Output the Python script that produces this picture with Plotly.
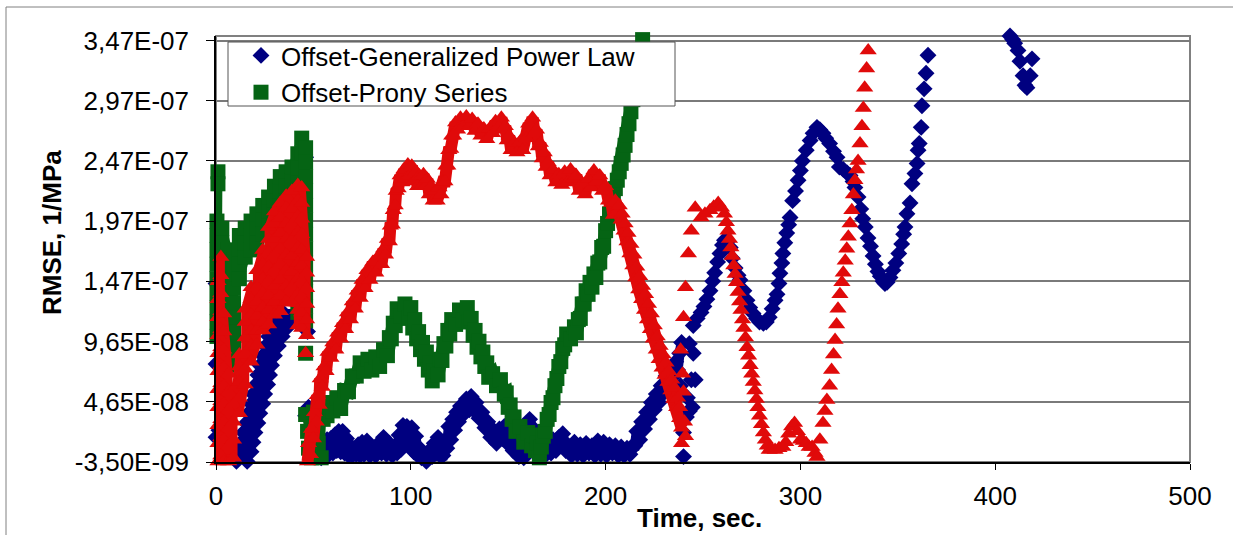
import plotly.graph_objects as go

# ---------------- data (time in s, RMSE in units of 1e-8 1/MPa) ----------------
UNIT = 1e-8

blue_cluster = [
    (10.5, -0.3), (16, -0.3), (12, 0.5), (18, 0.5), (13, 1.3), (19, 1.3), (14, 2.1), (20, 2.1),
    (15.5, 2.9), (21.5, 2.9), (16.5, 3.7), (22.5, 3.7), (18, 4.5), (24, 4.5), (19, 5.3), (25, 5.3),
    (20.5, 6.1), (26.5, 6.1), (21.5, 6.9), (27.5, 6.9), (22.5, 7.7), (28.5, 7.7), (24, 8.5), (30, 8.5),
    (25.5, 9.3), (32, 9.3), (27, 10.1), (34, 10.1), (29, 10.9), (37, 10.9), (32, 11.5), (39.5, 11.5),
    (35, 12.0), (40.5, 12.0),
]
blue_specks = [
    (0, 1.7), (1.5, 2.3), (2.5, 1.2), (0, 7.8), (0, 14.5), (46, 3.5),
    (47.5, 4.2), (44, 14.8), (46, 25.0), (45, 20.0), (43, 17.0), (47, 10.5),
    (240, 0.1), (240, 2.1), (241.5, 3.4), (242, 5.0), (243, 3.9), (244, 6.5), (245, 8.7), (246, 6.5),
    (244.5, 4.2), (243, 9.5), (238.5, 6.0),
]
blue_floor = [
    (54, 0.0), (55, 1.2), (56, 0.2), (57, 1.5), (58, 0.3), (59, 1.6), (60, 0.4), (61, 1.9), (62, 0.6),
    (63, 2.2), (64, 0.5), (65, 2.2), (66, 0.4), (67, 1.6), (68, 0.2), (69, 1.0), (70, 0.2), (71, 0.7),
    (72, 0.3), (73, 1.1), (74, 0.2), (75, 1.3), (76, 0.3), (77.5, 1.4), (79, 0.2), (80.5, 0.8), (82, 0.2),
    (83.5, 1.2), (85, 0.4), (86, 1.7), (87.5, 0.3), (89, 1.2), (90.5, 0.2), (92, 1.0), (93, 0.4), (94, 1.9),
    (95, 0.7), (96, 2.7), (97, 1.2), (98, 2.6), (99.5, 1.0), (100.5, 2.5), (101.5, 0.5), (102.5, 1.8),
    (103.5, 0.2), (104.5, 0.8), (105.5, 0.0), (107, 0.3), (108, -0.3), (109.5, 0.6), (111, 0.1), (112, 1.2),
    (113, 0.4), (114, 1.7), (115, 0.2), (116.5, 0.2), (117.5, 1.4), (118.5, 0.8), (119.5, 2.6), (120.5, 1.5),
    (121.5, 3.2), (122.5, 2.3), (123.5, 3.8), (124.5, 3.0), (125.5, 4.3), (127, 3.6), (128.5, 4.9), (130, 4.0),
    (131, 5.1), (132, 4.0), (133.5, 4.6), (135, 3.3), (136.5, 3.8), (138, 2.5), (139.5, 3.0), (141, 1.7),
    (142.5, 2.3), (144, 1.2), (145.5, 2.4), (147, 1.6), (148, 2.6), (149.5, 1.2), (151, 1.8), (152.5, 0.6),
    (154, 1.2), (155.5, 0.1), (157, 0.4), (158, 0.0), (159, 1.4), (160, 2.2), (161, 3.2), (162, 2.6),
    (163, 2.2), (164.5, 0.8), (166, 0.1), (167.5, 0.5), (169, 0.2), (170.5, 1.0), (172, 0.4), (173, 1.5),
    (174.5, 0.6), (176, 1.7), (177, 1.0), (178, 2.0), (179.5, 0.6), (181, 1.0), (182.5, 0.2), (184, 1.3),
    (185.5, 0.3), (187, 1.1), (188.5, 0.2), (190, 1.2), (191.5, 0.4), (193, 1.0), (194.5, 0.2), (196, 1.4),
    (197.5, 0.3), (199, 1.3), (200.5, 0.2), (202, 1.1), (203.5, 0.4), (205, 1.0), (206.5, 0.2), (208, 0.9),
    (209.5, 0.2), (211, 0.8), (212.5, 0.3), (214, 1.0),
    (215, 1.0), (216, 2.2), (217.5, 1.5), (218.5, 3.0), (220, 2.4), (221, 3.8), (222.5, 3.2), (223.5, 4.6),
    (225, 4.0), (226, 5.3), (227.5, 4.6), (228.5, 6.0), (230, 5.4), (231, 6.8), (232.5, 6.0), (233.5, 7.4),
    (235, 6.8), (236, 8.0), (237, 7.3), (238, 8.7), (239, 9.6),
]
blue_late = [
    (245, 11.0), (247, 11.6), (249, 12.1), (250.5, 12.6), (252, 13.2), (253.6, 13.9), (255, 14.7), (256, 15.4),
    (257.5, 16.3), (258.7, 17.0), (260, 17.7), (261, 18.1), (262.5, 18.0), (264, 17.5), (265, 16.6), (266.5, 15.8),
    (268, 15.2), (269, 14.8), (271, 13.9), (272.6, 13.1), (274, 12.5), (275.7, 12.0), (277.5, 11.6), (279, 11.3),
    (281, 11.2), (282.5, 11.3), (284, 11.7), (285.5, 12.4), (287, 13.1), (288, 13.6), (289, 14.5), (289.5, 15.35),
    (290.5, 16.2), (291, 17.0), (292, 17.9), (293, 18.7), (294, 19.4), (294.7, 20.0), (296, 21.4), (297.5, 22.2),
    (298.8, 23.1), (300, 23.9), (301, 24.7), (303, 25.6), (305, 26.4), (306.5, 27.0), (308.5, 27.5), (310, 27.3),
    (311.6, 27.0), (313, 26.6), (315, 26.15), (317, 25.5), (318.8, 25.0), (320, 24.2), (322, 24.0), (324, 23.7),
    (325.5, 23.5), (327, 23.0), (328, 22.5), (329.6, 21.7), (331, 20.7), (332, 19.9), (333.3, 19.2), (334.7, 18.3),
    (336, 17.6), (337.3, 16.8), (338.5, 16.1), (339.8, 15.5), (341, 15.1), (342.4, 14.7), (343.4, 14.5), (344.5, 14.6),
    (346, 15.0), (347.5, 15.6), (349, 16.2), (350.5, 17.0), (352, 17.8), (353, 18.6), (353.7, 19.2), (354.7, 20.3),
    (356.3, 21.2), (357.3, 22.8), (358.8, 23.65), (359.9, 24.5), (360.4, 25.6), (361, 26.15), (362, 27.5),
    (362.4, 29.3), (363.5, 30.7), (364.5, 32.0), (365.5, 33.5),
    (407.6, 35.1), (409, 34.8), (410, 34.5), (411.7, 33.9), (412.7, 33.0), (414.3, 31.8), (415.3, 31.0),
    (416.3, 30.8), (418, 31.8), (418.9, 33.2),
]

green_cluster = [
    (1, 23.8), (1, 22.8),
    (0.5, 19.7), (0.5, 18.5), (0.5, 17.3), (0.5, 16.1), (0.5, 14.9), (0.5, 13.7), (0.5, 12.5), (0.5, 11.3), (0.5, 10.1),
    (3, 9.5), (3, 10.7), (3, 11.9), (3, 13.1), (3, 14.3), (3, 15.5), (3, 16.7), (3, 17.9), (3, 19.1),
    (6, 17.3), (6, 16.1), (6, 14.9), (6, 13.7), (6, 12.5), (6, 11.3), (6, 10.1), (6, 8.9), (6, 7.7),
    (9, 9.3), (9, 10.5), (9, 11.7), (9, 12.9), (9, 14.1), (9, 15.3), (9, 16.5),
    (12, 18.5), (12, 17.3), (12, 16.1), (12, 14.9), (15, 16.7), (15, 17.9), (15, 19.1),
    (18, 19.7), (18, 18.5), (18, 17.3), (21, 17.9), (21, 19.1), (21, 20.3), (24, 21.0), (24, 19.8), (24, 18.6),
    (27, 19.3), (27, 20.5), (27, 21.7), (30, 22.6), (30, 21.4), (30, 20.2), (33, 21.0), (33, 22.2), (33, 23.4),
    (36, 23.8), (36, 22.6), (36, 21.4), (39, 21.8), (39, 23.0), (39, 24.2),
    (42, 25.3), (42, 24.1), (42, 22.9), (42, 21.7), (42, 20.5), (42, 19.3), (42, 18.1), (42, 16.9), (42, 15.7),
    (42, 14.5), (42, 13.3), (42, 12.1), (44, 12.3), (44, 25.4), (44, 26.6),
    (46, 25.8), (46, 24.6), (46, 23.4), (46, 22.2), (46, 21.0), (46, 19.8), (46, 18.6), (46, 17.4), (46, 16.2),
    (46, 15.0), (46, 13.8), (46, 12.6), (46, 11.4),
]
green_specks = [(46, 8.7)]
green_foot = [
    (46, 3.6), (47, 2.2), (47.5, 0.8), (49, 0.0), (50, 3.8), (51.5, 2.6), (52.5, 1.2), (54, 0.0), (55, 3.2), (56, 4.2),
]
green_main = [
    (57, 3.5), (58, 4.6), (60, 3.9), (62, 5.0), (64, 4.1), (66, 5.6), (68, 5.5), (70, 6.8), (72, 6.8), (74, 7.9),
    (76, 7.2), (78, 8.2), (80, 7.3), (82, 8.4), (84, 7.6), (86, 9.0), (88, 8.5), (89, 10.0), (90, 9.9), (91, 11.2),
    (92, 11.0), (93, 12.4), (95, 11.8), (97, 12.8), (99, 11.6), (100, 12.5), (101, 10.8), (102, 11.5), (103, 9.9),
    (104, 10.5), (105, 9.0), (106, 9.6), (107, 8.2), (108, 8.8), (109, 7.3), (110, 7.9), (111, 6.4), (112, 7.2),
    (114, 6.9), (115, 8.2), (116, 8.1), (117, 9.5), (118, 9.3), (119, 10.6), (120, 10.3), (121, 11.5), (123, 11.1),
    (125, 12.3), (127, 11.5), (129, 12.5), (130, 11.3), (131, 11.6), (132, 10.2), (133, 10.6), (134, 9.2),
    (135, 9.7), (136, 8.4), (137, 8.8), (138, 7.6), (139, 7.9), (140, 6.7), (142, 7.0), (144, 6.0), (146, 6.5),
    (148, 5.3), (149, 5.4), (150, 4.2), (151, 4.4), (152, 3.2), (153, 3.4), (154, 2.2), (156, 2.6), (158, 1.3),
    (160, 2.1), (162, 1.0), (163, 1.9), (164, 0.6), (165, 1.2), (166, 0.0), (167, 0.9), (168, 1.8), (169, 2.2),
    (170, 3.2), (171, 3.6), (172, 4.6), (173, 5.0), (174, 6.0), (175, 6.6), (176, 7.6), (177, 8.0), (178, 9.1),
    (179, 9.4), (180, 10.3), (182, 9.9), (184, 10.9), (185, 10.4), (186, 11.5), (187, 11.6), (188, 12.8),
    (189, 12.8), (190, 13.9), (191, 13.6), (192, 14.6), (193, 14.2), (194, 15.3), (195, 15.0), (196, 16.2),
    (197, 16.3), (198, 17.5), (199, 17.6), (200, 18.9), (201, 19.5), (202, 20.3), (203, 21.0), (204, 21.7),
    (205, 22.4), (206, 23.1), (207, 23.8), (208, 24.5), (209, 25.2), (210, 26.0), (211, 26.9), (212, 27.8),
    (213, 28.8), (214, 29.8), (215, 30.8), (216, 31.8), (217, 32.8), (218, 33.9), (219, 34.8),
]

red_cluster = [
    (1, -0.3), (1, 1.2), (1, 2.7), (1, 4.2), (1, 5.7), (1, 7.2), (1, 8.7), (1, 10.2), (1, 11.7), (1, 13.2), (1, 14.7),
    (2.5, 16.7), (2.5, 15.2), (2.5, 13.7), (2.5, 12.2), (2.5, 10.7), (2.5, 9.2), (2.5, 7.7), (2.5, 6.2), (2.5, 4.7),
    (2.5, 3.2), (2.5, 1.7), (2.5, 0.2),
    (4, -0.3), (4, 1.5), (4, 3.0), (4, 4.5), (4, 6.0), (4, 7.5), (4, 9.0), (4, 10.5), (4, 12.0),
    (6.5, 7.0), (6.5, 5.5), (6.5, 4.0), (6.5, 2.5), (6.5, 1.0), (6.5, -0.3), (9, 0.0), (9, 1.5), (9, 3.0),
    (9, 4.5), (10.5, 6.0),
    (12, 8.6), (12, 7.6), (12, 6.3), (12, 5.0), (12, 3.7),
    (15, 6.1), (15, 7.4), (15, 8.7), (15, 10.0), (15, 11.3), (15, 12.4),
    (18, 14.2), (18, 13.2), (18, 11.9), (18, 10.6), (18, 9.3), (18, 8.0),
    (21, 9.4), (21, 10.6), (21, 11.8), (21, 13.0), (21, 14.2), (21, 15.6),
    (24, 17.3), (24, 16.1), (24, 14.9), (24, 13.7), (24, 12.5), (24, 11.3), (24, 10.6),
    (27, 11.1), (27, 12.3), (27, 13.5), (27, 14.7), (27, 15.9), (27, 17.1), (27, 18.2), (27, 19.2),
    (30, 20.5), (30, 19.5), (30, 18.2), (30, 16.9), (30, 15.6), (30, 14.3), (30, 13.0), (30, 11.9),
    (33, 12.2), (33, 13.5), (33, 14.8), (33, 16.1), (33, 17.4), (33, 18.7), (33, 20.0), (33, 21.2),
    (36, 21.8), (36, 20.8), (36, 19.5), (36, 18.2), (36, 16.9), (36, 15.6), (36, 14.3), (36, 13.0),
    (39, 12.9), (39, 14.2), (39, 15.5), (39, 16.8), (39, 18.1), (39, 19.4), (39, 20.7), (39, 22.2),
    (42, 22.7), (42, 21.4), (42, 20.1), (42, 18.8), (42, 17.5), (42, 16.2), (42, 14.9), (42, 13.6), (42, 12.3), (42, 11.0),
    (44, 10.8), (44, 12.1), (44, 13.4), (44, 14.7), (44, 16.0), (44, 17.3), (44, 18.6), (44, 19.9), (44, 21.2), (44, 22.5),
    (46.5, 16.7), (46.5, 15.4), (46.5, 14.1), (46.5, 12.8), (46.5, 11.5), (46.5, 10.2),
]
red_specks = [(46, 8.7), (238.5, 9.0), (239.5, 7.0), (240, 5.5), (240.5, 3.0), (241, 1.8), (239, 1.2)]
red_main = [
    (47, -0.3), (47.5, 1.2), (48.5, 0.3), (49, 2.4), (50, 1.6), (50.5, 3.8), (51.5, 3.0), (52, 5.2), (53, 4.4),
    (53.5, 6.6), (54.5, 5.9), (55.5, 7.6), (56.5, 7.2), (57.5, 8.8), (59, 8.3), (60, 9.6), (61.5, 9.0), (62.5, 10.4),
    (64, 9.9), (65, 11.2), (66.5, 10.7), (67.5, 12.1), (69, 11.5), (70, 13.0), (71.5, 12.4), (72.5, 13.9), (74, 13.3),
    (75, 14.8), (76.5, 14.1), (77.5, 15.6), (79, 14.8), (80.5, 16.3), (82, 15.4), (83.5, 16.8), (85, 16.1), (86, 17.4),
    (87, 16.9), (88, 18.2), (89, 18.0), (89.5, 19.3), (90.5, 19.4), (91, 20.6), (92, 21.0), (92.5, 22.2), (93.5, 22.4),
    (94.5, 23.5), (95.5, 22.9), (96.5, 24.0), (97.5, 23.2), (98.5, 24.4), (99.5, 23.5), (100.5, 24.3), (101.5, 23.0),
    (102.5, 23.8), (103.5, 22.6), (104.5, 23.5), (105.5, 22.6), (106.5, 23.6), (107.5, 22.6), (108.5, 23.2),
    (109.5, 21.9), (110.5, 22.6), (111.5, 21.4), (112.5, 22.2), (113.5, 21.4), (114.5, 22.5), (115.5, 21.9),
    (116.5, 23.0), (117.5, 23.0), (118, 24.3), (119, 24.3), (119.5, 25.6), (120.5, 25.7), (121, 26.8), (122, 26.8),
    (123, 27.9), (124, 27.3), (125.5, 28.3), (127, 27.6), (128.5, 28.4), (130, 27.6), (131.5, 28.2), (133, 27.2),
    (134.5, 27.8), (136, 26.8), (137.5, 27.4), (139, 26.5), (140.5, 27.4), (142, 27.0), (143.5, 28.0), (145, 27.5),
    (146.5, 28.3), (147.5, 27.3), (148.5, 27.6), (149.5, 26.4), (150.5, 26.8), (151.5, 25.6), (153, 26.2),
    (154.5, 25.4), (156, 26.3), (157.5, 25.6), (158.5, 26.8), (159.5, 26.6), (160.5, 27.8), (161.5, 27.6),
    (162.5, 28.3), (163.5, 27.0), (164.5, 27.3), (165.5, 25.9), (166.5, 26.2), (167.5, 24.9), (168.5, 25.4),
    (169.5, 24.2), (170.5, 24.6), (171.5, 23.5), (173, 24.0), (174.5, 22.9), (176, 23.6), (177.5, 22.7), (179, 23.8),
    (180.5, 22.9), (182, 24.0), (183.5, 23.2), (185, 23.5), (186.5, 22.2), (188, 22.8), (189.5, 21.9), (191, 23.2),
    (192.5, 22.5), (194, 23.9), (195.5, 23.0), (197, 23.5), (198.5, 22.2), (200, 22.6), (201.5, 21.4), (203, 21.2),
    (204, 20.2),
    (205, 21.4), (206.5, 20.6), (208, 19.8), (209.5, 18.9), (211, 18.0), (212.5, 17.0), (214, 16.0), (215.5, 15.0),
    (217, 14.0), (218.5, 13.2), (220, 12.3), (221.5, 11.5), (223, 10.7), (224.5, 9.9), (226, 9.0), (227.5, 8.2),
    (229, 7.5), (230.5, 6.9), (232, 6.3), (233.5, 5.6), (235, 4.9), (236.5, 4.2), (238, 3.3), (239, 2.5),
]
red_tail = [
    (207, 21.0), (208.5, 20.3), (210, 19.5), (211.5, 18.7), (213, 17.8), (214.5, 16.9), (216, 15.9), (217.5, 15.1),
    (219, 14.3), (220.5, 13.6), (222, 12.8), (223.5, 12.0), (225, 11.0), (226.5, 10.1), (228, 9.3), (229.5, 8.6),
    (231, 7.9), (232.5, 7.2), (234, 6.5), (235.5, 5.8), (237, 5.0), (238, 4.2),
]
red_late = [
    (240, 11.7), (241, 14.2), (242.5, 17.0), (244, 18.9), (246, 20.8), (249, 20.0), (251, 20.3), (253.6, 20.6),
    (255.5, 20.9), (257.8, 21.2), (259.5, 20.8), (261, 20.3), (262, 19.6), (262.8, 18.9), (263.6, 18.2),
    (264.3, 17.5), (265, 16.8), (265.8, 16.0), (266.5, 15.3), (267.2, 14.6), (268, 13.8), (268.8, 13.0),
    (269.5, 12.3), (270.3, 11.5), (271, 10.8), (271.8, 10.0), (272.6, 9.2), (273.4, 8.5), (274.2, 7.7), (275, 7.0),
    (275.8, 6.3), (276.6, 5.6), (277.4, 4.9), (278.2, 4.2), (279, 3.5), (280, 2.8), (281, 2.1), (282, 1.5),
    (283, 1.0), (284, 0.65), (285.5, 0.7), (287, 0.65),
    (289, 0.8), (291, 0.9), (292.5, 1.3), (294, 2.0), (295.5, 2.6), (297, 2.9), (298.5, 2.2), (300, 1.5),
    (301.5, 1.4), (303, 1.2), (304.5, 0.9), (306, 0.9), (307.5, 0.4), (308.5, 0.07), (310, 1.5), (311.6, 2.9),
    (312.6, 3.9), (313.6, 4.8), (315, 6.0), (316, 7.3), (317, 8.6), (317.8, 9.8), (318.6, 11.1), (319.3, 12.4),
    (320.3, 13.6), (321.3, 14.6), (322, 15.4), (323, 16.4), (323.8, 17.4), (324.6, 18.4), (325.5, 19.5),
    (326.4, 20.6), (327.2, 21.9), (328, 23.1), (328.8, 24.0), (329.6, 24.7), (330.6, 26.15), (331.6, 27.6),
    (332.3, 29.1), (333, 30.8), (334, 32.4), (334.8, 33.9),
]

x_ticks = [0, 100, 200, 300, 400, 500]
y_tickvals = [-3.5e-9, 4.65e-8, 9.65e-8, 1.47e-7, 1.97e-7, 2.47e-7, 2.97e-7, 3.47e-7]
y_ticktext = ["-3,50E-09", "4,65E-08", "9,65E-08", "1,47E-07", "1,97E-07", "2,47E-07", "2,97E-07", "3,47E-07"]

series_names = ["Offset-Generalized Power Law", "Offset-Prony Series", "Offset-Prony (red)"]

# ---------------- figure ----------------
FONT = "Arial, Liberation Sans, sans-serif"
BLUE = "#000080"
GREEN = "#056414"
RED = "#E00A0A"
SYMBOL = {"blue": ("diamond", 13, BLUE), "green": ("square", 15, GREEN), "red": ("triangle-up", 15, RED)}


def xs(pts):
    return [p[0] for p in pts]


def ys(pts):
    return [p[1] * UNIT for p in pts]


fig = go.Figure()


def add(pts, series, name, legend=False, band=0, rank=1000):
    sym, size, color = SYMBOL[series]
    fig.add_trace(go.Scatter(
        x=xs(pts), y=ys(pts), name=name, showlegend=legend, legendgroup=series, legendrank=rank,
        mode="lines+markers" if band else "markers", cliponaxis=False,
        line=dict(color=color, width=band, shape="linear"),
        marker=dict(symbol=sym, size=size, color=color, line=dict(width=0)),
    ))


# draw order: blue, green, red (red on top)
add(blue_late, "blue", series_names[0], legend=True, rank=1)
add(blue_specks, "blue", series_names[0])
add(blue_cluster, "blue", series_names[0], band=9)
add(blue_floor, "blue", series_names[0], band=10)
add(green_specks, "green", series_names[1], legend=True, rank=2)
add(green_cluster, "green", series_names[1], band=9)
add(green_foot, "green", series_names[1], band=6)
add(green_main, "green", series_names[1], band=13)
add(red_cluster, "red", series_names[2], band=8)
add(red_main, "red", series_names[2], band=12)
add(red_tail, "red", series_names[2], band=7)
add(red_specks, "red", series_names[2])
add(red_late, "red", series_names[2])

L, R, T, B = 216, 43, 36, 73
W, H = 1233, 535
pw, ph = W - L - R, H - T - B


def px_x(p):
    return (p - L) / pw


def px_y(p):
    return (H - B - p) / ph


fig.update_layout(
    width=W, height=H,
    margin=dict(l=L, r=R, t=T, b=B),
    paper_bgcolor="white", plot_bgcolor="white",
    font=dict(family=FONT, color="black", size=26),
    showlegend=True,
    legend=dict(x=px_x(241), y=px_y(32), xanchor="left", yanchor="top",
                bgcolor="rgba(0,0,0,0)", borderwidth=0, font=dict(size=26, family=FONT),
                tracegroupgap=0, itemsizing="trace"),
    xaxis=dict(range=[0, 500], tickvals=x_ticks, ticktext=[str(v) for v in x_ticks],
               showgrid=False, zeroline=False, showline=True, linecolor="black", linewidth=1.5,
               ticks="outside", ticklen=6, tickcolor="black", tickwidth=1,
               tickfont=dict(size=26, family=FONT), ticklabelstandoff=4),
    yaxis=dict(range=[-3.5e-9, 3.51e-7], tickvals=y_tickvals, ticktext=y_ticktext,
               showgrid=True, gridcolor="#7a7a7a", gridwidth=1.5, zeroline=False,
               showline=True, linecolor="black", linewidth=1.5,
               ticks="outside", ticklen=8, tickcolor="black", tickwidth=1,
               tickfont=dict(size=26, family=FONT), ticklabelstandoff=12),
    annotations=[
        dict(text="<b>Time, sec.</b>", xref="paper", yref="paper", x=px_x(699), y=px_y(518),
             xanchor="center", yanchor="middle", showarrow=False, font=dict(size=26, family=FONT)),
        dict(text="<b>RMSE, 1/MPa</b>", xref="paper", yref="paper", x=px_x(52), y=px_y(233),
             xanchor="center", yanchor="middle", textangle=-90, showarrow=False,
             font=dict(size=26, family=FONT)),
    ],
    shapes=[
        dict(type="rect", xref="paper", yref="paper", x0=0, x1=1, y0=0, y1=1,
             line=dict(color="#808080", width=2), layer="below"),
        dict(type="rect", xref="paper", yref="paper",
             x0=px_x(228), x1=px_x(675), y0=px_y(106), y1=px_y(42),
             line=dict(color="#555555", width=1), fillcolor="white", layer="above"),
        # outer chart border: only its left and top edges fall inside the picture
        dict(type="line", xref="paper", yref="paper",
             x0=px_x(6), x1=px_x(6), y0=px_y(7), y1=px_y(560),
             line=dict(color="#808080", width=1)),
        dict(type="line", xref="paper", yref="paper",
             x0=px_x(6), x1=px_x(1260), y0=px_y(7), y1=px_y(7),
             line=dict(color="#808080", width=1)),
    ],
)

fig.write_html("out.html")
